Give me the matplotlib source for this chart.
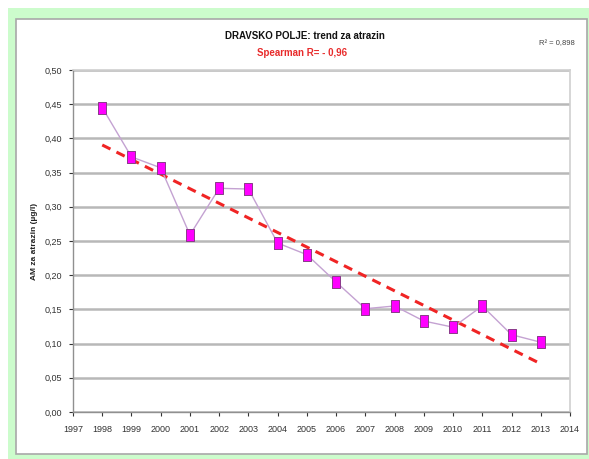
import numpy as np
import matplotlib
matplotlib.use("Agg")
import matplotlib.pyplot as plt
from matplotlib.patches import Rectangle
from matplotlib.ticker import FuncFormatter

# Annual mean atrazine concentration, Dravsko polje
years = [1998, 1999, 2000, 2001, 2002, 2003, 2004, 2005,
         2006, 2007, 2008, 2009, 2010, 2011, 2012, 2013]
am_atrazin = [0.445, 0.373, 0.357, 0.259, 0.327, 0.326, 0.247, 0.230,
              0.190, 0.151, 0.155, 0.133, 0.124, 0.155, 0.113, 0.102]
x_ticks = list(range(1997, 2015))
y_ticks = [0.00, 0.05, 0.10, 0.15, 0.20, 0.25, 0.30, 0.35, 0.40, 0.45, 0.50]

title = "DRAVSKO POLJE: trend za atrazin"
subtitle = "Spearman R= - 0,96"
r2_text = "R² = 0,898"
y_label = "AM za atrazin (µg/l)"

FONT = ["Liberation Sans Narrow", "Liberation Sans", "DejaVu Sans"]
plt.rcParams["font.family"] = FONT

W, H = 589, 459
fig = plt.figure(figsize=(W / 100, H / 100), dpi=100)
fig.patch.set_facecolor("white")


def fx(px):
    return px / W


def fy(py):
    return 1 - py / H


# green frame and white chart panel
fig.patches.append(Rectangle((fx(8), 0), 1 - fx(8), fy(8), transform=fig.transFigure,
                             facecolor="#ccfccc", edgecolor="none", zorder=0))
fig.patches.append(Rectangle((fx(16), fy(454)), fx(587) - fx(16), fy(19) - fy(454),
                             transform=fig.transFigure, facecolor="white",
                             edgecolor="#a8a8a8", linewidth=1.2, zorder=1))

ax = fig.add_axes([fx(73), fy(412), fx(570) - fx(73), fy(70) - fy(412)])
ax.set_zorder(5)
ax.set_facecolor("white")
ax.set_xlim(1997, 2014)
ax.set_ylim(0, 0.5)

ax.set_yticks(y_ticks)
ax.yaxis.set_major_formatter(FuncFormatter(lambda v, p: f"{v:.2f}".replace(".", ",")))
ax.set_xticks(x_ticks)
ax.set_xticklabels([str(y) for y in x_ticks])
ax.tick_params(axis="both", labelsize=6.5, colors="#333333", length=3, width=0.8)
ax.tick_params(axis="x", pad=6)
ax.tick_params(axis="y", pad=5)

ax.grid(axis="y", color="#b8b8b8", linewidth=1.8, zorder=0)
ax.set_axisbelow(True)
for side in ["top", "right"]:
    ax.spines[side].set_color("#d0d0d0")
    ax.spines[side].set_linewidth(1.2)
for side in ["left", "bottom"]:
    ax.spines[side].set_color("#909090")
    ax.spines[side].set_linewidth(1.0)

# data line with markers
rect = [(-0.36, -0.5), (0.36, -0.5), (0.36, 0.5), (-0.36, 0.5), (-0.36, -0.5)]
ax.plot(years, am_atrazin, color="#c4a2d2", linewidth=1.0, zorder=3)
ax.plot(years, am_atrazin, linestyle="none", marker=rect, markersize=8,
        markerfacecolor="#ff00ff", markeredgecolor="#8a3a8a", markeredgewidth=0.7, zorder=4)

# linear trend
coef = np.polyfit(years, am_atrazin, 1)
trend = np.polyval(coef, years)
ax.plot(years, trend, color="#f02424", linewidth=2.2, linestyle=(0, (3, 2.2)), zorder=2)

ax.set_ylabel(y_label, fontsize=6, fontweight="bold", color="#222222")
ax.yaxis.set_label_coords((38 - 73) / (570 - 73), 0.5)

fig.text(fx(305), fy(36), title, ha="center", va="center", fontsize=7,
         fontweight="bold", color="#111111")
fig.text(fx(302), fy(53), subtitle, ha="center", va="center", fontsize=7,
         fontweight="bold", color="#e82c2c")
fig.text(fx(557), fy(44), r2_text, ha="center", va="center", fontsize=5.5,
         color="#444444")

fig.savefig("out.png", dpi=100)
